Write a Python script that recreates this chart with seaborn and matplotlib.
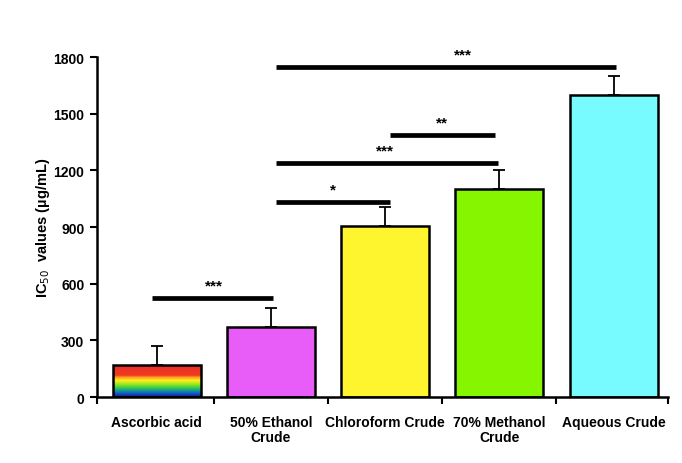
import numpy as np
import pandas as pd
import matplotlib
matplotlib.use("Agg")
import matplotlib.pyplot as plt
from matplotlib.colors import LinearSegmentedColormap
import seaborn as sns

categories = ["Ascorbic acid", "50% Ethanol\nCrude", "Chloroform Crude", "70% Methanol\nCrude", "Aqueous Crude"]
ic50 = [170, 370, 905, 1100, 1600]
sd = [100, 100, 100, 100, 100]
bar_colors = ["#f03030", "#e85cf8", "#fff52e", "#85f500", "#78fbff"]
rainbow_stops = [0.0, 0.12, 0.25, 0.38, 0.5, 0.6, 0.66, 1.0]
rainbow = ["#101a80", "#1060d0", "#20c060", "#90e820", "#fff020", "#ffa020", "#f03a22", "#e83028"]
yticks = [0, 300, 600, 900, 1200, 1500, 1800]

# significance brackets: (x_start, x_end, y, label, label_x)
sig_x0 = [-0.04, 1.04, 1.04, 2.04, 1.04]
sig_x1 = [1.02, 2.04, 2.99, 2.96, 4.02]
sig_y = [524, 1032, 1239, 1387, 1747]
sig_label = ["***", "*", "***", "**", "***"]
sig_lx = [0.5, 1.54, 2.0, 2.5, 2.68]

sns.set_style("white")
plt.rcParams['font.family'] = ['Liberation Sans', 'DejaVu Sans']
plt.rcParams['text.color'] = 'black'
plt.rcParams['axes.labelcolor'] = 'black'
plt.rcParams['xtick.color'] = 'black'
plt.rcParams['ytick.color'] = 'black'

fig = plt.figure(figsize=(6.82, 4.64), dpi=100)
ax = fig.add_axes([0.142, 0.142, 0.838, 0.733])

df = pd.DataFrame({"cat": categories, "val": ic50})
sns.barplot(data=df, x="cat", y="val", hue="cat", palette=bar_colors, legend=False,
            saturation=1, edgecolor="black", linewidth=1.8, width=0.77, ax=ax, zorder=2)

# rainbow gradient inside first bar
p0 = ax.patches[0]
bx, by = p0.get_x(), p0.get_y()
bw, bh = p0.get_width(), p0.get_height()
cmap = LinearSegmentedColormap.from_list("rb", list(zip(rainbow_stops, rainbow)))
grad = np.linspace(0, 1, 256).reshape(-1, 1)
im = ax.imshow(grad, cmap=cmap, origin="lower", aspect="auto",
               extent=[bx, bx + bw, by, by + bh], zorder=2.5)
im.set_clip_path(p0)
p0.set_facecolor("none")
p0.set_zorder(3)

ax.errorbar(range(len(ic50)), ic50, yerr=[np.zeros(len(sd)), sd], fmt="none",
            ecolor="black", elinewidth=1.3, capsize=4, capthick=1.3, zorder=1)

for x0, x1, y, lab, lx in zip(sig_x0, sig_x1, sig_y, sig_label, sig_lx):
    ax.plot([x0, x1], [y, y], color="black", lw=3.4, solid_capstyle="butt", zorder=4)
    ax.text(lx, y + 30, lab, ha="center", va="bottom", fontsize=11, fontweight="bold")

ax.set_xlim(-0.526, 4.48)
ax.set_ylim(0, 1800)
ax.set_yticks(yticks)
ax.set_yticklabels([str(v) for v in yticks], fontsize=10, fontweight="bold")
ax.set_xticks(range(len(categories)))
ax.set_xticklabels(categories, fontsize=10, fontweight="bold", linespacing=1.1)
ax.tick_params(axis="x", length=0, pad=13)
ax.tick_params(axis="y", direction="out", length=5, width=1.5, left=True, pad=4)
# boundary ticks on x-axis
ax.set_xticks([-0.526, 0.5, 1.5, 2.5, 3.5, 4.48], minor=True)
ax.tick_params(axis="x", which="minor", direction="out", length=5, width=1.5, bottom=True)

ax.set_xlabel("")
ax.set_ylabel("IC$_{50}$  values (µg/mL)", fontsize=10.5, fontweight="bold", labelpad=1)
for s in ["top", "right"]:
    ax.spines[s].set_visible(False)
for s in ["left", "bottom"]:
    ax.spines[s].set_linewidth(1.8)
    ax.spines[s].set_color("black")

fig.savefig("out.png", dpi=100)
